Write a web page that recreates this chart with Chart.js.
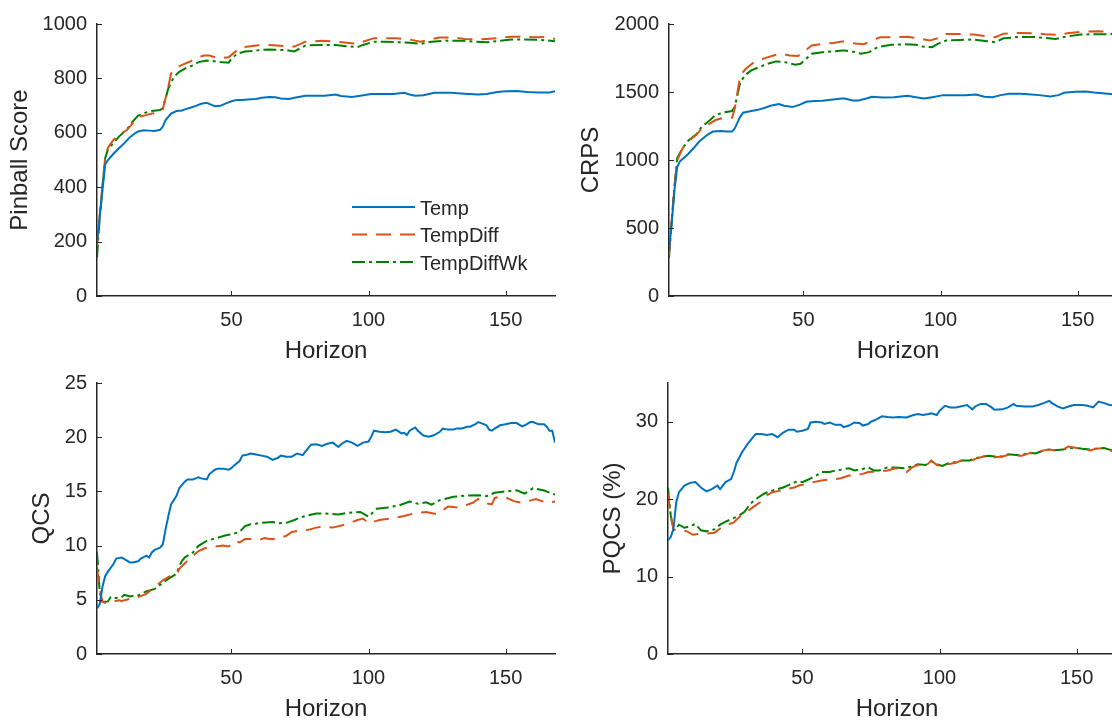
<!DOCTYPE html>
<html>
<head>
<meta charset="utf-8">
<title>Forecast scores by horizon</title>
<script src="https://cdn.jsdelivr.net/npm/chart.js@4.4.0/dist/chart.umd.min.js"></script>
<style>
  html, body { margin: 0; padding: 0; background: #ffffff; }
  #figure { position: relative; width: 1112px; height: 722px; overflow: hidden; background: #ffffff; }
  #figure canvas { position: absolute; }
</style>
</head>
<body>
<div id="figure"></div>
<script>
// ---------------------------------------------------------------------------
// Data: [horizon, value] pairs for each model and score
// ---------------------------------------------------------------------------
const seriesNames = ['Temp', 'TempDiff', 'TempDiffWk'];
const horizonTicks = [50, 100, 150];

const pinballTicks = [0, 200, 400, 600, 800, 1000];
const pinballTemp = [[1,200],[2,290],[3,390],[4,485],[5,500],[7,523],[9,543],[11,562],[13,584],[15,599],[16,605],[18,609],[20,608],[22,607],[24,611],[25,623],[26,647],[28,671],[30,680],[32,682],[33,686],[35,692],[37,699],[39,707],[41,710],[43,702],[44,698],[46,699],[48,708],[50,716],[52,721],[54,721],[57,723],[59,724],[61,729],[64,732],[66,731],[68,726],[71,724],[73,729],[77,736],[80,736],[84,736],[88,741],[90,735],[94,732],[97,736],[101,743],[105,743],[109,743],[113,747],[115,741],[117,736],[120,738],[124,747],[130,747],[135,744],[140,741],[143,743],[147,750],[150,753],[154,754],[158,750],[162,748],[166,748],[168,753]];
const pinballTempDiff = [[1,185],[2,300],[3,410],[4,510],[5,545],[7,574],[9,592],[12,611],[14,635],[16,659],[19,665],[21,671],[24,675],[25,687],[27,769],[28,818],[30,838],[32,850],[35,862],[37,875],[40,884],[42,884],[44,878],[47,876],[49,878],[52,903],[54,915],[57,918],[59,921],[62,923],[64,923],[70,918],[73,917],[77,935],[83,938],[88,935],[92,931],[96,927],[98,935],[102,948],[106,948],[110,948],[115,943],[119,935],[122,942],[126,950],[131,950],[135,945],[140,943],[143,945],[147,948],[152,953],[156,953],[161,951],[165,953],[168,945]];
const pinballTempDiffWk = [[1,142],[2,290],[3,400],[4,507],[5,540],[7,562],[9,586],[12,614],[14,641],[16,663],[19,675],[21,680],[24,684],[25,690],[27,763],[29,805],[31,824],[33,836],[36,848],[38,860],[41,866],[43,864],[46,860],[49,858],[50,872],[52,890],[55,899],[58,901],[61,905],[64,906],[66,905],[70,904],[73,899],[77,921],[83,923],[88,923],[92,918],[96,915],[98,923],[102,935],[106,935],[111,933],[115,931],[119,927],[123,935],[128,939],[134,938],[139,935],[143,933],[147,937],[152,943],[156,943],[161,942],[165,940],[168,937]];

const crpsTicks = [0, 500, 1000, 1500, 2000];
const crpsTemp = [[1,330],[2,540],[3,780],[4,950],[5,990],[8,1044],[10,1088],[12,1136],[15,1185],[17,1209],[20,1214],[22,1209],[24,1209],[25,1233],[27,1319],[28,1348],[31,1360],[33,1367],[36,1384],[38,1399],[41,1411],[43,1399],[46,1389],[49,1409],[51,1428],[54,1433],[57,1435],[60,1443],[64,1452],[65,1452],[68,1438],[70,1438],[73,1452],[75,1465],[79,1460],[83,1462],[88,1472],[91,1462],[94,1452],[97,1462],[101,1477],[105,1477],[109,1477],[113,1482],[116,1465],[119,1462],[122,1477],[125,1487],[129,1487],[132,1484],[136,1477],[140,1467],[143,1477],[145,1494],[149,1501],[153,1504],[156,1496],[160,1489],[164,1482]];
const crpsTempDiff = [[1,300],[2,560],[3,800],[4,1000],[6,1088],[8,1136],[11,1185],[13,1233],[16,1270],[18,1294],[21,1311],[24,1311],[25,1380],[27,1623],[29,1671],[32,1720],[36,1749],[40,1774],[42,1781],[45,1769],[48,1764],[50,1793],[53,1842],[57,1854],[61,1861],[64,1871],[65,1871],[69,1856],[72,1851],[75,1878],[78,1903],[83,1903],[88,1907],[92,1895],[96,1878],[99,1895],[102,1927],[107,1927],[112,1922],[117,1910],[120,1903],[123,1929],[129,1934],[134,1932],[138,1925],[143,1920],[147,1934],[152,1944],[157,1946],[161,1944],[164,1944]];
const crpsTempDiffWk = [[1,280],[2,560],[3,810],[4,1015],[6,1088],[8,1141],[11,1190],[13,1246],[16,1294],[18,1331],[21,1350],[24,1360],[25,1392],[27,1574],[29,1628],[31,1659],[34,1684],[37,1708],[40,1725],[43,1720],[47,1701],[49,1708],[51,1744],[53,1781],[57,1793],[61,1798],[64,1805],[65,1805],[69,1793],[71,1781],[74,1793],[77,1830],[82,1847],[87,1851],[91,1847],[94,1832],[97,1830],[99,1854],[102,1878],[107,1883],[112,1886],[117,1873],[120,1866],[123,1895],[129,1905],[134,1905],[138,1898],[142,1890],[145,1905],[151,1922],[156,1925],[161,1925],[164,1927]];

const qcsTicks = [0, 5, 10, 15, 20, 25];
const qcsTemp = [[1,4.2],[2,4.6],[3,6.2],[4,7.2],[5,7.6],[7,8.3],[8,8.8],[10,8.9],[11,8.76],[13,8.45],[14,8.45],[16,8.55],[17,8.8],[19,9.07],[20,8.9],[21,9.37],[22,9.6],[24,9.8],[25,10.1],[26,11.5],[27,12.7],[28,13.8],[30,14.6],[31,15.3],[32,15.6],[33,15.9],[34,16.1],[36,16.1],[37,16.2],[38,16.3],[39,16.2],[41,16.1],[42,16.6],[44,17.0],[45,17.1],[47,17.1],[49,17.0],[50,17.15],[51,17.4],[53,17.8],[54,18.3],[56,18.4],[57,18.5],[59,18.4],[61,18.3],[63,18.2],[65,17.9],[67,18.1],[68,18.3],[70,18.2],[72,18.2],[74,18.5],[76,18.35],[78,19.0],[79,19.3],[81,19.35],[83,19.2],[85,19.4],[87,19.5],[89,19.1],[90,19.35],[92,19.66],[94,19.5],[96,19.2],[98,19.5],[100,19.6],[101,20.05],[102,20.6],[104,20.5],[106,20.45],[108,20.5],[110,20.7],[112,20.35],[113,20.4],[114,20.2],[115,20.6],[117,20.9],[118,20.6],[120,20.15],[122,20.05],[124,20.2],[126,20.5],[127,20.8],[129,20.7],[131,20.7],[132,20.8],[134,20.8],[136,20.97],[137,20.97],[139,21.2],[140,21.4],[142,21.2],[143,21.1],[144,20.7],[145,20.6],[146,20.8],[148,21.1],[150,21.2],[152,21.3],[154,21.3],[156,21.0],[157,21.1],[159,21.4],[160,21.4],[162,21.2],[164,21.2],[165,20.97],[166,20.6],[167,20.6],[168,19.5]];
const qcsTempDiff = [[1,8.0],[2,6.0],[3,4.8],[5,4.64],[7,4.85],[9,4.95],[10,4.9],[14,5.15],[16,5.25],[19,5.55],[22,6.17],[25,6.8],[28,7.23],[30,7.3],[31,7.85],[34,8.6],[36,9.07],[38,9.5],[41,9.83],[44,9.92],[47,10.0],[49,9.92],[51,10.4],[53,10.3],[55,10.6],[57,10.6],[60,10.5],[62,10.7],[64,10.6],[66,10.6],[70,10.9],[72,11.26],[74,11.35],[78,11.45],[81,11.66],[83,11.75],[87,11.66],[92,11.97],[96,12.36],[98,12.5],[100,12.06],[104,12.36],[108,12.5],[113,12.73],[117,13.0],[121,13.1],[125,12.9],[129,13.6],[133,13.5],[138,13.95],[140,14.3],[142,13.95],[145,13.8],[146,14.4],[149,14.56],[153,14.1],[156,13.95],[161,14.3],[165,13.95],[168,14.07]];
const qcsTempDiffWk = [[1,9.4],[2,5.7],[3,4.8],[5,4.85],[6,5.25],[8,5.16],[10,5.25],[11,5.46],[13,5.3],[14,5.34],[16,5.4],[19,5.77],[22,6.0],[24,6.38],[27,6.93],[30,7.4],[31,8.1],[32,8.6],[33,8.9],[36,9.37],[38,9.98],[41,10.44],[44,10.65],[48,10.96],[50,11.05],[53,11.26],[55,11.8],[57,11.97],[61,12.1],[65,12.18],[67,12.06],[70,12.1],[73,12.36],[75,12.58],[78,12.8],[81,12.97],[84,12.97],[89,12.88],[93,13.03],[97,13.1],[100,12.67],[103,13.4],[107,13.52],[111,13.7],[115,14.07],[118,13.86],[121,14.0],[123,13.77],[126,14.2],[131,14.5],[135,14.6],[140,14.65],[143,14.56],[146,14.87],[150,15.0],[154,15.1],[157,14.8],[160,15.3],[164,15.08],[168,14.7]];

const pqcsTicks = [0, 10, 20, 30];
const pqcsTemp = [[1,14.7],[2,15.1],[3,16.2],[4,19.6],[5,20.9],[7,21.76],[9,22.1],[11,22.2],[13,21.5],[15,21.0],[17,21.3],[19,21.76],[20,21.3],[22,22.2],[24,22.6],[25,23.5],[26,24.7],[28,26.05],[30,27.1],[32,28.0],[33,28.4],[35,28.4],[37,28.3],[39,28.4],[41,28.0],[43,28.6],[45,28.97],[47,28.97],[48,28.7],[50,28.84],[52,29.06],[53,29.9],[55,30.0],[57,29.9],[58,29.7],[60,29.9],[62,29.6],[64,29.6],[65,29.3],[67,29.5],[69,29.9],[71,29.8],[72,29.5],[74,29.7],[75,30.0],[77,30.3],[79,30.7],[81,30.6],[83,30.56],[85,30.6],[88,30.56],[90,30.8],[92,30.99],[94,30.86],[96,30.99],[97,31.1],[99,30.86],[100,31.4],[102,32.06],[104,31.85],[106,31.85],[110,32.15],[112,31.6],[113,31.97],[115,32.3],[117,32.3],[119,31.85],[120,31.55],[123,31.6],[125,31.85],[127,32.3],[128,32.06],[131,31.97],[134,31.97],[136,32.15],[138,32.4],[140,32.7],[141,32.4],[143,31.97],[145,31.7],[147,31.97],[149,32.15],[152,32.15],[154,32.06],[156,31.85],[158,32.6],[160,32.4],[162,32.15],[164,32.1]];
const pqcsTempDiff = [[1,20.7],[2,17.9],[3,16.0],[4,16.1],[6,15.97],[8,15.84],[10,15.4],[12,15.5],[14,15.5],[18,15.67],[20,16.2],[22,16.6],[25,17.0],[27,17.7],[30,18.4],[32,18.97],[35,19.7],[37,20.5],[39,20.9],[42,21.1],[44,21.3],[47,21.5],[49,21.8],[52,21.97],[54,22.2],[57,22.4],[59,22.5],[62,22.6],[64,22.7],[67,23.05],[69,23.05],[72,23.26],[74,23.5],[78,23.56],[81,23.7],[84,24.0],[88,23.5],[90,24.1],[92,24.4],[95,24.3],[97,24.98],[99,24.4],[101,24.25],[103,24.5],[106,24.7],[108,24.98],[111,24.85],[113,25.2],[116,25.5],[118,25.6],[120,25.4],[123,25.5],[125,25.7],[128,25.6],[130,25.6],[133,25.97],[135,25.8],[138,26.3],[140,26.4],[142,26.3],[145,26.4],[147,26.8],[150,26.6],[152,26.5],[155,26.3],[157,26.5],[160,26.6],[162,26.3],[164,26.1]];
const pqcsTempDiffWk = [[1,21.5],[2,17.9],[3,16.0],[4,16.2],[5,16.7],[7,16.3],[9,16.5],[11,16.8],[13,15.97],[15,15.84],[18,16.1],[20,16.7],[22,17.1],[24,17.4],[27,17.9],[29,18.4],[31,19.4],[33,20.0],[36,20.7],[38,20.99],[41,21.3],[43,21.5],[46,21.97],[48,22.3],[50,22.2],[52,22.5],[55,23.05],[57,23.5],[60,23.5],[62,23.7],[64,23.8],[67,23.99],[69,23.7],[72,23.9],[74,24.1],[76,23.7],[78,23.7],[81,24.1],[84,24.1],[87,24.0],[90,24.2],[92,24.5],[95,24.4],[97,24.9],[99,24.5],[101,24.3],[103,24.6],[106,24.8],[108,25.0],[111,25.0],[113,25.3],[116,25.5],[118,25.6],[120,25.5],[123,25.5],[125,25.8],[128,25.7],[130,25.7],[133,26.0],[135,25.9],[138,26.3],[140,26.4],[142,26.3],[145,26.4],[147,26.6],[150,26.6],[152,26.5],[155,26.4],[157,26.5],[160,26.6],[162,26.4],[164,26.2]];

// ---------------------------------------------------------------------------
// Styling
// ---------------------------------------------------------------------------
const FONT = "'Liberation Sans', Arial, Helvetica, sans-serif";
const INK = '#262626';
const lineStyles = [
  { color: '#0072BD', dash: [] },
  { color: '#D95319', dash: [15, 9] },
  { color: '#008000', dash: [13, 4, 3, 4] }
];

// Layout of each axes box in page pixels
const Y_AXIS_W = 97, X_AXIS_H = 75, PAD_TOP = 20, PAD_RIGHT = 20;

const panels = [
  { yTitle: 'Pinball Score', yMax: 1000, yTicks: pinballTicks,
    series: [pinballTemp, pinballTempDiff, pinballTempDiffWk],
    box: { left: 97, top: 22, right: 555, bottom: 296 }, titlePad: 5.6, legend: true },
  { yTitle: 'CRPS', yMax: 2000, yTicks: crpsTicks,
    series: [crpsTemp, crpsTempDiff, crpsTempDiffWk],
    box: { left: 669, top: 22, right: 1127, bottom: 296 }, titlePad: 4.6 },
  { yTitle: 'QCS', yMax: 25, yTicks: qcsTicks,
    series: [qcsTemp, qcsTempDiff, qcsTempDiffWk],
    box: { left: 97, top: 381, right: 555, bottom: 654 }, titlePad: 27.6 },
  { yTitle: 'PQCS (%)', yMax: 35, yTicks: pqcsTicks,
    series: [pqcsTemp, pqcsTempDiff, pqcsTempDiffWk],
    box: { left: 668, top: 381, right: 1126, bottom: 654 }, titlePad: 27.6 }
];

// Inward-pointing tick marks on the left and bottom axes
const innerTicks = {
  id: 'innerTicks',
  afterDatasetsDraw(chart) {
    const { ctx, chartArea, scales } = chart;
    ctx.save();
    ctx.strokeStyle = INK;
    ctx.lineWidth = 1;
    ctx.beginPath();
    scales.x.ticks.forEach(t => {
      const px = Math.round(scales.x.getPixelForValue(t.value)) + 0.5;
      ctx.moveTo(px, chartArea.bottom);
      ctx.lineTo(px, chartArea.bottom - 5);
    });
    scales.y.ticks.forEach(t => {
      const py = Math.round(scales.y.getPixelForValue(t.value)) + 0.5;
      ctx.moveTo(chartArea.left, py);
      ctx.lineTo(chartArea.left + 5, py);
    });
    ctx.stroke();
    ctx.restore();
  }
};

// Box-less legend drawn inside the plot area
const insideLegend = {
  id: 'insideLegend',
  afterDraw(chart, args, opts) {
    if (!opts.show) return;
    const { ctx, chartArea } = chart;
    ctx.save();
    chart.data.datasets.forEach((ds, i) => {
      const y = chartArea.top + opts.top + i * opts.rowGap;
      const x0 = chartArea.right - opts.right;
      ctx.strokeStyle = ds.borderColor;
      ctx.lineWidth = ds.borderWidth;
      ctx.setLineDash(ds.borderDash || []);
      ctx.beginPath();
      ctx.moveTo(x0, y);
      ctx.lineTo(x0 + opts.sample, y);
      ctx.stroke();
      ctx.setLineDash([]);
      ctx.fillStyle = INK;
      ctx.font = opts.font;
      ctx.textAlign = 'left';
      ctx.textBaseline = 'middle';
      ctx.fillText(ds.label, x0 + opts.sample + 5, y + 2);
    });
    ctx.restore();
  }
};

const plainNumber = v => String(v);
const figure = document.getElementById('figure');

panels.forEach(p => {
  const left = p.box.left - Y_AXIS_W;
  const top = p.box.top - PAD_TOP;
  const width = p.box.right + PAD_RIGHT - left;
  const height = p.box.bottom + X_AXIS_H - top;

  const canvas = document.createElement('canvas');
  canvas.width = width;
  canvas.height = height;
  canvas.style.left = left + 'px';
  canvas.style.top = top + 'px';
  canvas.style.width = width + 'px';
  canvas.style.height = height + 'px';
  figure.appendChild(canvas);

  const datasets = p.series.map((pairs, i) => ({
    label: seriesNames[i],
    data: pairs.map(([x, y]) => ({ x, y })),
    borderColor: lineStyles[i].color,
    borderDash: lineStyles[i].dash,
    borderWidth: 2,
    pointRadius: 0,
    tension: 0,
    fill: false
  }));

  new Chart(canvas, {
    type: 'line',
    data: { datasets },
    plugins: [innerTicks, insideLegend],
    options: {
      responsive: false,
      animation: false,
      devicePixelRatio: 1,
      layout: { padding: { top: PAD_TOP, right: PAD_RIGHT, left: 0, bottom: 0 } },
      plugins: {
        legend: { display: false },
        tooltip: { enabled: false },
        insideLegend: {
          show: !!p.legend, top: 183, rowGap: 27.5, right: 203, sample: 63,
          font: '20px ' + FONT
        }
      },
      scales: {
        x: {
          type: 'linear',
          min: 1,
          max: 168,
          afterBuildTicks: s => { s.ticks = horizonTicks.map(v => ({ value: v })); },
          afterFit: s => { s.height = X_AXIS_H; },
          grid: { display: false, drawTicks: false },
          border: { display: true, color: INK, width: 1.5 },
          ticks: { color: INK, font: { family: FONT, size: 20 }, padding: 12.5,
                   maxRotation: 0, callback: plainNumber },
          title: { display: true, text: 'Horizon', color: INK,
                   font: { family: FONT, size: 24 }, padding: { top: 0, bottom: 4.9 } }
        },
        y: {
          type: 'linear',
          min: 0,
          max: p.yMax,
          afterBuildTicks: s => { s.ticks = p.yTicks.map(v => ({ value: v })); },
          afterFit: s => { s.width = Y_AXIS_W; },
          grid: { display: false, drawTicks: false },
          border: { display: true, color: INK, width: 1.5 },
          ticks: { color: INK, font: { family: FONT, size: 20 }, padding: 10,
                   callback: plainNumber },
          title: { display: true, text: p.yTitle, color: INK,
                   font: { family: FONT, size: 24 }, padding: { top: p.titlePad, bottom: 0 } }
        }
      }
    }
  });
});
</script>
</body>
</html>
